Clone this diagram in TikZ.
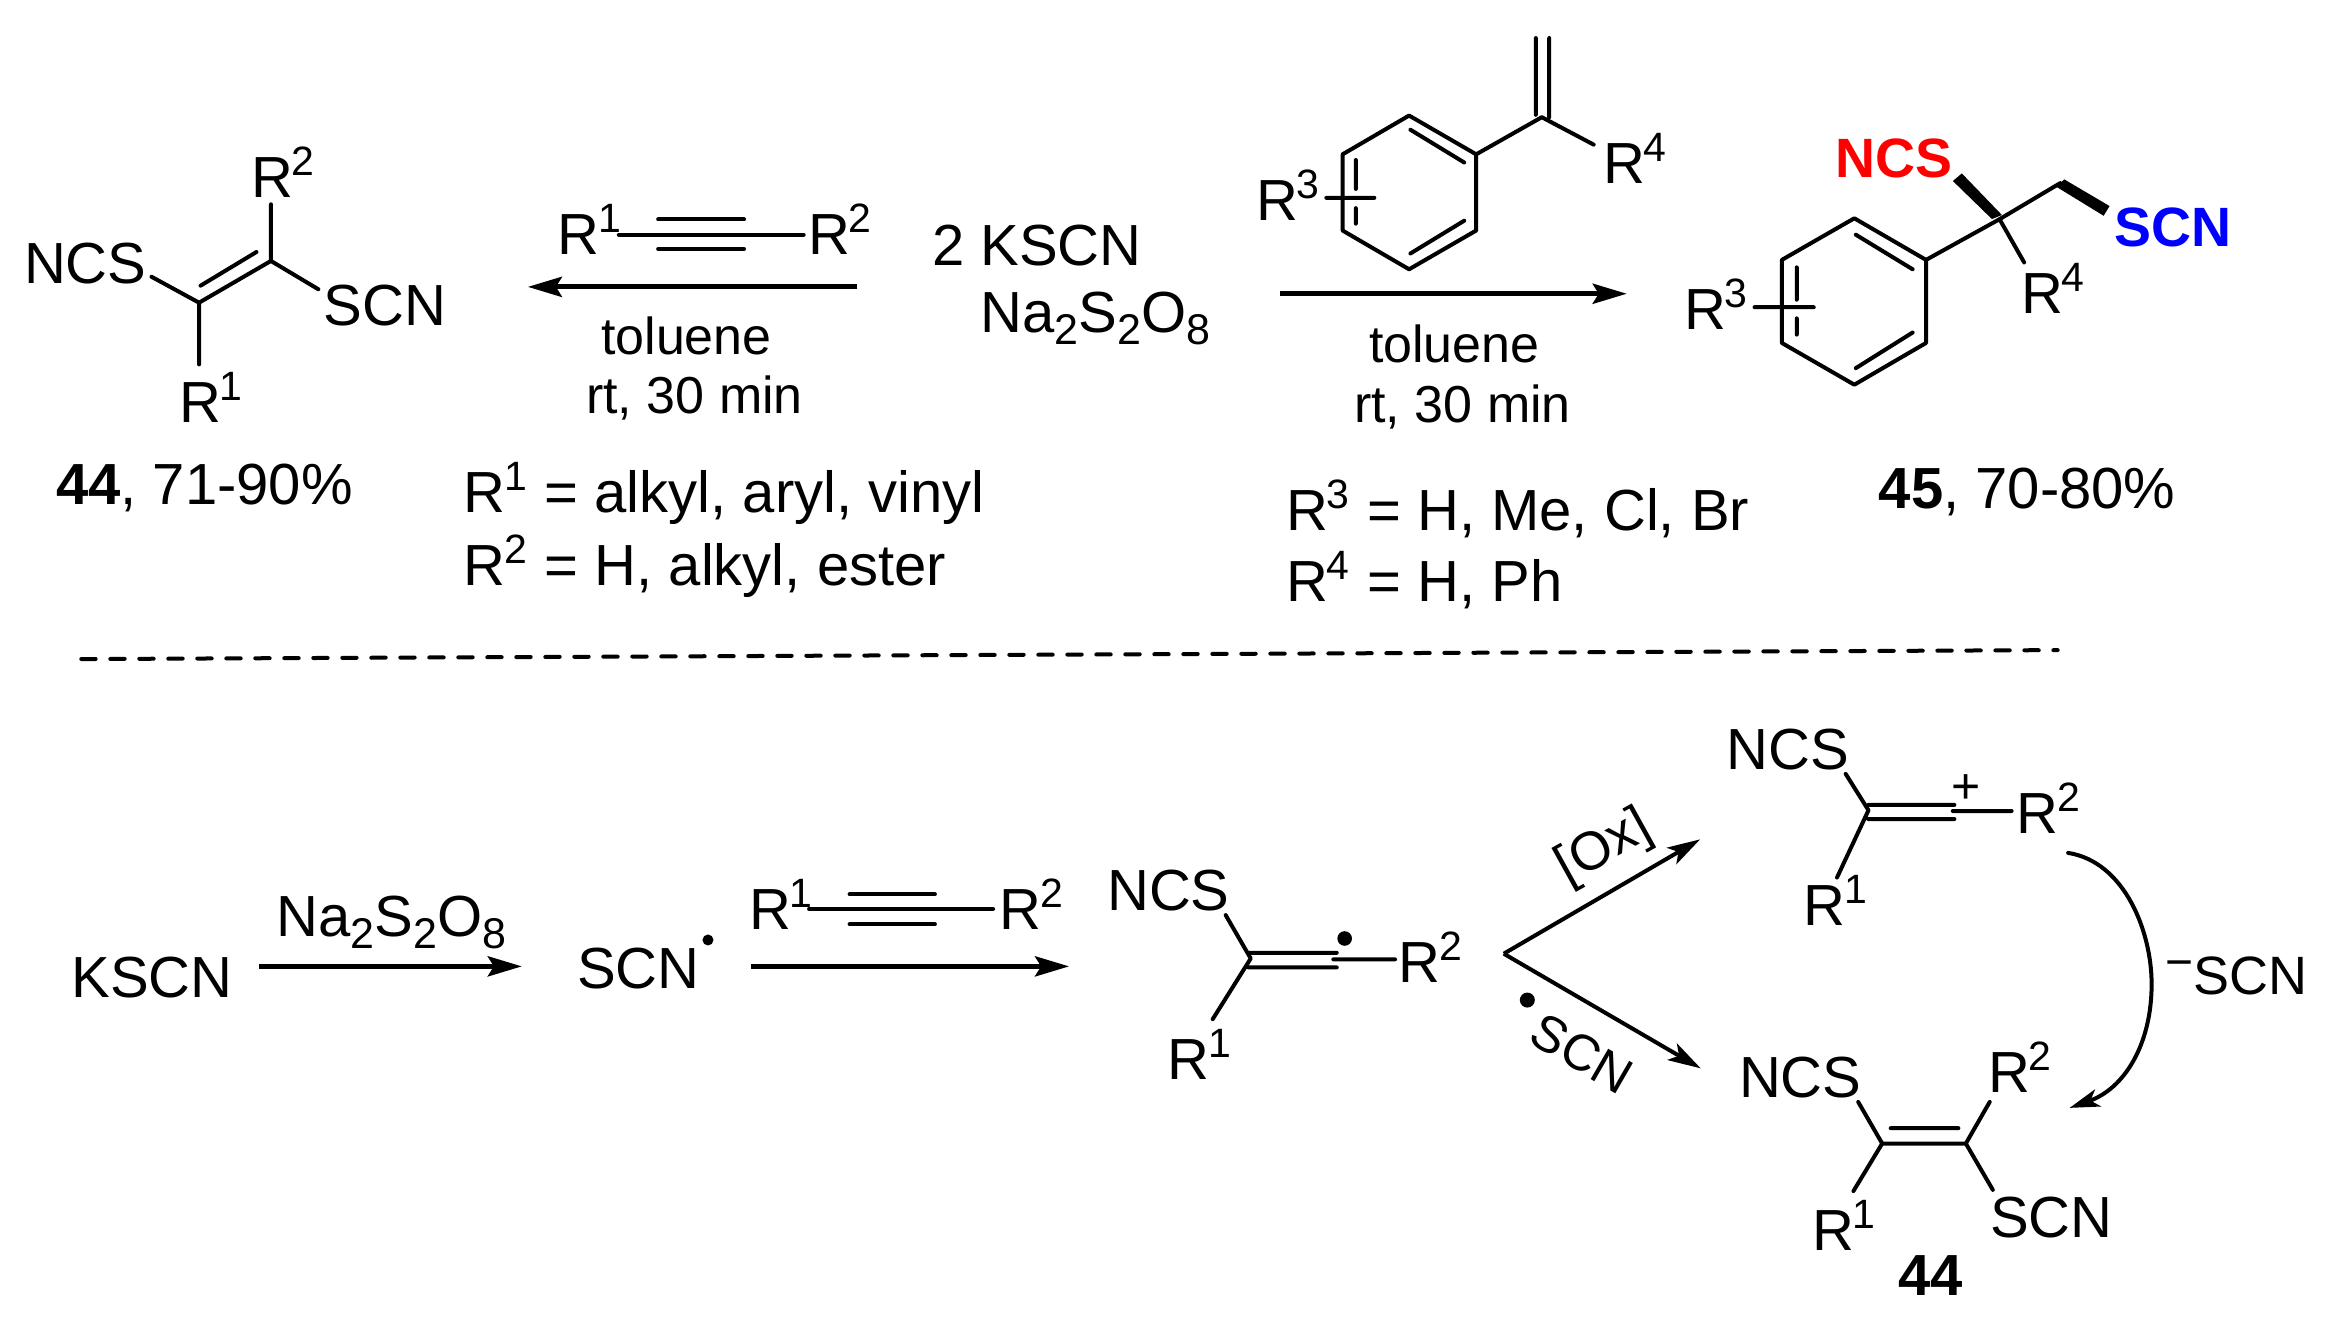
\documentclass[tikz,border=0pt]{standalone}
\usepackage{fontspec}
\setmainfont{Liberation Sans}
\usetikzlibrary{arrows.meta}
\newcommand{\Fs}{\fontsize{29}{34}\selectfont}
\newcommand{\Fc}{\fontsize{26}{30}\selectfont}
\newcommand{\Fb}{\fontsize{27.7}{32}\selectfont\bfseries}
\newcommand{\Sp}[1]{\kern-0.8pt\raisebox{11pt}{\fontsize{20.5}{24}\selectfont #1}}
\newcommand{\Sb}[1]{\raisebox{-6pt}{\fontsize{21.5}{24}\selectfont #1}}
\newcommand{\Pts}[1]{\foreach \n/\xx/\yy in {#1} {\coordinate (\n) at (\xx,\yy);}}
\tikzset{
  chem/.style={anchor=base west,inner sep=0pt,outer sep=0pt,font=\Fs,xshift=-1.4pt},
  cond/.style={chem,font=\Fc},
  bond/.style={line width=2pt,line cap=round,line join=round},
  mainarrow/.style={line width=2.5pt,-{Stealth[length=17pt,width=10pt,inset=3pt]}},
  diagarrow/.style={line width=2pt,-{Stealth[length=16.5pt,width=9.5pt,inset=4pt]}},
  curvearrow/.style={line width=2pt,line cap=round,-{Stealth[length=15pt,width=9pt,inset=4pt]}},
  radical/.style={circle,fill=black,inner sep=0pt},
  sepline/.style={line width=2pt,line cap=round,dash pattern=on 7.2pt off 7.3pt}
}
\begin{document}
\begin{tikzpicture}[x=0.7455pt,y=-0.7455pt]
\useasboundingbox (0,0) rectangle (1568,886.6);
% ---------- product 44, top left
\Pts{a1/133.5/203, a2/181.7/175, a3/181.7/137, a4/133.5/244.4, a5/101.6/185.6, a6/213.5/194, a7/134.5/191.6, a8/172/169}
\node[chem] (t1) at (170.4,132.7) {R\Sp{2}};
\node[chem] (t2) at (18,190) {NCS};
\node[chem] (t3) at (219,218.4) {SCN};
\node[chem] (t4) at (122,283.3) {R\Sp{1}};
\node[chem] (t5) at (39.5,338.6) {\textbf{44}, 71-90\%};
\draw[bond] (a3) -- (a2) -- (a6) (a5) -- (a1) -- (a4) (a1) -- (a2) (a7) -- (a8);
% ---------- alkyne, top
\Pts{b1/415/157.4, b2/539/157.4, b3/441.4/147.2, b4/499/147.2, b5/441.4/167, b6/499/167, b7/575/192.4, b8/354/192.4}
\node[chem] (t6) at (376,171) {R\Sp{1}};
\node[chem] (t7) at (544,171) {R\Sp{2}};
\draw[bond] (b1) -- (b2) (b3) -- (b4) (b5) -- (b6);
\draw[mainarrow] (b7) -- (b8);
\node[cond] (t8) at (405,237.5) {toluene};
\node[cond] (t9) at (395,277.5) {rt, 30 min};
\node[chem] (t10) at (313,344) {R\Sp{1}\kern0.8pt{} = alkyl, aryl, vinyl};
\node[chem] (t11) at (313,392.8) {R\Sp{2}\kern0.8pt{} = H, alkyl, ester};
\node[chem] (t12) at (627,178) {2 KSCN};
\node[chem] (t13) at (659.6,223) {Na\Sb{2}S\Sb{2}O\Sb{8}};
% ---------- styrene
\Pts{c1/945/77.5, c2/990/103.5, c3/990/154.6, c4/945/180.6, c5/900.4/154.6, c6/900.4/103.5,
 c7/945.9/87, c8/982/109, c9/982/148, c10/945.9/170, c11/909.3/107.3, c12/909.3/126.7, c13/909.3/139.6, c14/909.3/150,
 c15/889.5/132.7, c16/921.7/132.7, c17/1034/78.6, c18/1030/25.5, c19/1030/77, c20/1039/25.5, c21/1039/78.6, c22/1068.8/97,
 c23/858.3/197, c24/1091/197}
\draw[bond] (c1) -- (c2) -- (c3) -- (c4) -- (c5) -- (c6) -- cycle;
\draw[bond] (c7) -- (c8) (c9) -- (c10) (c11) -- (c12) (c13) -- (c14) (c15) -- (c16);
\draw[bond] (c2) -- (c17) -- (c22) (c18) -- (c19) (c20) -- (c21);
\draw[mainarrow] (c23) -- (c24);
\node[chem] (t14) at (1077,123) {R\Sp{4}};
\node[chem] (t15) at (844.4,147.8) {R\Sp{3}};
\node[cond] (t16) at (920,243) {toluene};
\node[cond] (t17) at (910,283.5) {rt, 30 min};
\node[chem] (t18) at (864.7,355.8) {R\Sp{3}\kern0.8pt{} = H, Me, Cl, Br};
\node[chem] (t19) at (864.7,403.7) {R\Sp{4}\kern0.8pt{} = H, Ph};
% ---------- product 45
\Pts{d1/1243.6/146.4, d2/1291.7/174.3, d3/1291.7/230, d4/1243.6/258, d5/1195/230, d6/1195/174.3,
 d7/1244.6/157.4, d8/1282.7/180.6, d9/1282.7/223, d10/1244.6/246.9, d11/1205/179.3, d12/1205/201, d13/1205/213.5, d14/1205/224.4,
 d15/1176.7/206, d16/1216.4/206, d17/1341/147, d18/1381.7/122.8, d19/1357.5/176,
 w1/1309.7/121.4, w2/1315.7/116.3, w3/1342.6/144.2, w4/1335.9/146.9,
 w5/1379/125.2, w6/1384.4/120.3, w7/1414.8/138.2, w8/1410.8/144.7}
\draw[bond] (d1) -- (d2) -- (d3) -- (d4) -- (d5) -- (d6) -- cycle;
\draw[bond] (d7) -- (d8) (d9) -- (d10) (d11) -- (d12) (d13) -- (d14) (d15) -- (d16);
\draw[bond] (d2) -- (d17) -- (d18) (d17) -- (d19);
\fill (w1) -- (w2) -- (w3) -- (w4) -- cycle;
\fill (w5) -- (w6) -- (w7) -- (w8) -- cycle;
\node[chem,text=red,font=\Fb] (t20) at (1232.6,119) {NCS};
\node[chem,text=blue,font=\Fb] (t21) at (1420,165.6) {SCN};
\node[chem] (t22) at (1357.5,210) {R\Sp{4}};
\node[chem] (t23) at (1131.7,221) {R\Sp{3}};
\node[chem] (t24) at (1262,340.8) {\textbf{45}, 70-80\%};
% ---------- separator
\Pts{s1/54.5/442, s2/1380/436}
\draw[sepline] (s1) -- (s2);
% ---------- mechanism, first steps
\Pts{e1/173.5/648.1, e2/350/648.1, e3/503.6/648.1, e4/717/648.1, e5/542.6/609.6, e6/666/609.6, e7/569.8/599.8, e8/627/599.8, e9/569.8/619.9, e10/627/619.9}
\node[chem] (t25) at (49.8,668.9) {KSCN};
\node[chem] (t26) at (187.4,628.2) {Na\Sb{2}S\Sb{2}O\Sb{8}};
\node[chem] (t27) at (389,662.9) {SCN};
\node[radical,minimum size=5.5pt] (r1) at (474.8,630.4) {};
\node[chem] (t28) at (504.6,623.7) {R\Sp{1}};
\node[chem] (t29) at (672.4,623.7) {R\Sp{2}};
\draw[mainarrow] (e1) -- (e2);
\draw[mainarrow] (e3) -- (e4);
\draw[bond] (e5) -- (e6) (e7) -- (e8) (e9) -- (e10);
% ---------- vinyl radical
\Pts{f1/838.8/642.8, f2/822/613.7, f3/813.3/683.5, f4/837.2/639, f5/896.5/639, f6/837.2/648.8, f7/896.5/648.8, f8/894.2/643.4, f9/935.6/643.4}
\node[chem] (t30) at (744.4,610.4) {NCS};
\node[chem] (t31) at (940,659.1) {R\Sp{2}};
\node[chem] (t32) at (785.1,723.7) {R\Sp{1}};
\node[radical,minimum size=7.3pt] (r2) at (901.8,629.4) {};
\draw[bond] (f2) -- (f1) -- (f3) (f4) -- (f5) (f6) -- (f7) (f8) -- (f9);
% ---------- branch
\Pts{g1/1008.5/639.6, g2/1140.2/562.9, g3/1140.6/716.5}
\draw[diagarrow] (g1) -- (g2);
\draw[diagarrow] (g1) -- (g3);
\node[inner sep=0pt,font=\fontsize{27}{32}\selectfont,rotate=29] (t33) at (1076,569) {[Ox]};
\node[inner sep=0pt,font=\fontsize{25.5}{30}\selectfont,rotate=-30] (t34) at (1061,706.5) {SCN};
\node[radical,minimum size=7.5pt] (r3) at (1024.3,670.7) {};
% ---------- vinyl cation
\Pts{h1/1253.1/543.4, h2/1237.8/519, h3/1232/588.5, h4/1253/539.8, h5/1310.7/539.8, h6/1253/549.3, h7/1310.7/549.3, h8/1309.6/543.9, h9/1349.1/543.9}
\node[chem] (t35) at (1159.8,516.3) {NCS};
\node[chem] (t36) at (1354.5,558.8) {R\Sp{2}};
\node[chem] (t37) at (1211.6,620.9) {R\Sp{1}};
\node[inner sep=0pt,font=\fontsize{25}{28}\selectfont] (t38) at (1318.4,529) {+};
\draw[bond] (h2) -- (h1) -- (h3) (h4) -- (h5) (h6) -- (h7) (h8) -- (h9);
% ---------- curved arrow
\Pts{i1/1387/572, i2/1443/660, i3/1388/743}
\draw[curvearrow] (i1) .. controls (1425,578) and (1443,625) .. (i2) .. controls (1443,700) and (1425,730) .. (i3);
\node[anchor=base west,inner sep=0pt,font=\fontsize{27}{32}\selectfont] (t39) at (1452,666.9) {\raisebox{8pt}{\fontsize{24}{28}\selectfont −}SCN};
% ---------- product 44, bottom
\Pts{j1/1262.3/766.9, j2/1318.4/766.9, j3/1246.2/739, j4/1243/798.8, j5/1334.4/739, j6/1336.5/798, j7/1268/756.6, j8/1313.4/756.6}
\node[chem] (t40) at (1168.2,736.3) {NCS};
\node[chem] (t41) at (1335.3,733) {R\Sp{2}};
\node[chem] (t42) at (1217.4,838.5) {R\Sp{1}};
\node[chem] (t43) at (1336.5,829.9) {SCN};
\node[chem] (t44) at (1275,869.1) {\textbf{44}};
\draw[bond] (j3) -- (j1) -- (j2) -- (j5) (j1) -- (j4) (j2) -- (j6) (j7) -- (j8);
\end{tikzpicture}
\end{document}
